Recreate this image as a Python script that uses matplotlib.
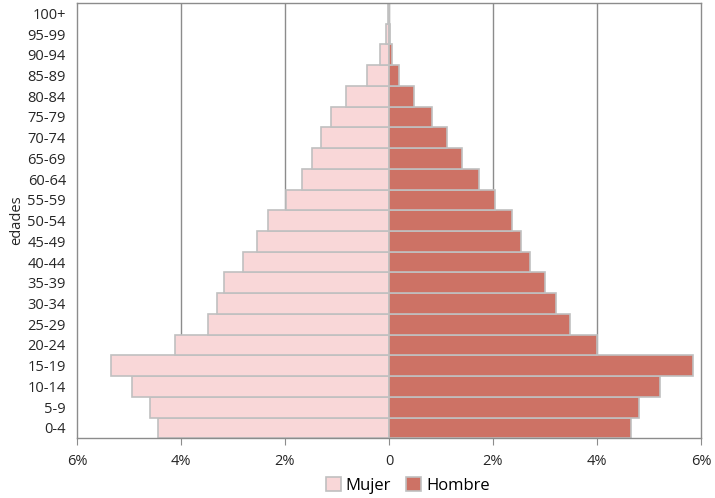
import matplotlib
matplotlib.use('Agg')
from matplotlib import pyplot as plt

plt.rcParams['font.family'] = ['Open Sans', 'DejaVu Sans']

edades = ['0-4', '5-9', '10-14', '15-19', '20-24', '25-29', '30-34', '35-39',
          '40-44', '45-49', '50-54', '55-59', '60-64', '65-69', '70-74',
          '75-79', '80-84', '85-89', '90-94', '95-99', '100+']
mujer = [4.45, 4.60, 4.95, 5.35, 4.11, 3.48, 3.31, 3.17, 2.81, 2.54, 2.32,
         1.99, 1.67, 1.48, 1.31, 1.12, 0.83, 0.43, 0.18, 0.06, 0.01]
hombre = [4.66, 4.81, 5.22, 5.85, 4.00, 3.49, 3.22, 3.00, 2.72, 2.54, 2.36,
          2.03, 1.74, 1.40, 1.12, 0.82, 0.49, 0.19, 0.05, 0.01, 0.0]
xticks = [-6, -4, -2, 0, 2, 4, 6]
xlabels = ['6%', '4%', '2%', '0', '2%', '4%', '6%']

gris = '#8c8c8c'
borde = '#c0c0c0'
texto = '#262626'

fig = plt.figure(figsize=(7.15, 4.98), dpi=100)
ax = fig.add_axes([0.1077, 0.12, 0.8727, 0.874])

y = list(range(len(edades)))
ax.barh(y, [-v for v in mujer], height=1.0, color='#f9d7d8',
        edgecolor=borde, linewidth=1.2, label='Mujer', zorder=2)
ax.barh(y, hombre, height=1.0, color='#cd7265',
        edgecolor=borde, linewidth=1.2, label='Hombre', zorder=2)

ax.set_xlim(-6, 6)
ax.set_ylim(-0.5, len(edades) - 0.5)
ax.set_xticks(xticks)
ax.set_xticklabels(xlabels, fontsize=10.5, color=texto)
ax.set_yticks(y)
ax.set_yticklabels(edades, fontsize=10.5, color=texto)
ax.tick_params(axis='y', length=0, pad=8)
ax.tick_params(axis='x', length=5, color=gris, pad=6)

for gx in [-4, -2, 0, 2, 4]:
    ax.axvline(gx, color=gris, linewidth=1, zorder=1)

for s in ax.spines.values():
    s.set_color(gris)
    s.set_linewidth(1)

ax.set_ylabel('edades', fontsize=10.5, color=texto, labelpad=2)

ax.legend(loc='upper center', bbox_to_anchor=(0.53, -0.055), ncol=2,
          frameon=False, fontsize=12, handlelength=0.9, handleheight=0.9,
          handletextpad=0.3, columnspacing=0.9)

fig.savefig('out.png', dpi=100)
